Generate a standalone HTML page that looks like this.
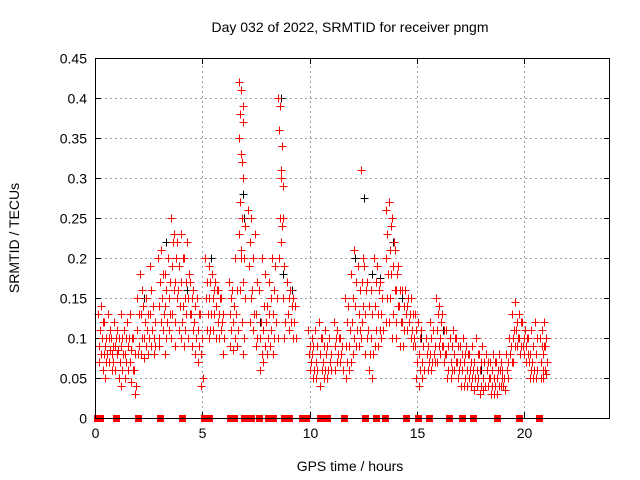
<!DOCTYPE html>
<html><head><meta charset="utf-8"><style>
body{margin:0;background:#fff}
svg{display:block;font-family:"Liberation Sans",sans-serif}
</style></head><body>
<svg id="chart" width="640" height="480" viewBox="0 0 640 480" xmlns="http://www.w3.org/2000/svg">
<rect width="640" height="480" fill="#fff"/>
<text x="350" y="32" font-size="14" text-anchor="middle">Day 032 of 2022, SRMTID for receiver pngm</text>
<text x="350" y="471" font-size="14" text-anchor="middle">GPS time / hours</text>
<text transform="translate(19,238) rotate(-90)" font-size="14" text-anchor="middle">SRMTID / TECUs</text>
<g id="grid"></g>
<g id="axes"></g>
<g id="black" shape-rendering="crispEdges"></g>
<g id="red" shape-rendering="crispEdges"></g>
<rect x="95.5" y="58.5" width="514" height="360" fill="none" stroke="#000" stroke-width="1"/>
</svg>
<script>
const xTicks = [0,5,10,15,20];
const yTicks = [0,0.05,0.1,0.15,0.2,0.25,0.3,0.35,0.4,0.45];
const yTickLabels = ["0","0.05","0.1","0.15","0.2","0.25","0.3","0.35","0.4","0.45"];
const redTimes = [0.2,0.35,0.5,0.65,0.8,0.95,1.1,1.25,1.4,1.55,1.7,1.85,2.0,2.15,2.3,2.45,2.6,2.75,3.0,3.15,3.3,3.45,3.6,3.75,3.9,4.05,4.2,4.35,4.5,4.65,4.8,4.95,5.2,5.35,5.5,5.65,5.8,5.95,6.3,6.45,6.6,6.75,6.85,6.95,7.2,7.35,7.5,7.7,7.85,8.0,8.15,8.3,8.45,8.6,8.7,8.8,9.0,9.15,9.3,10.0,10.15,10.3,10.5,10.65,10.8,10.95,11.2,11.35,11.5,11.7,11.85,12.0,12.15,12.3,12.45,12.6,12.75,12.9,13.05,13.2,13.35,13.6,13.75,13.9,14.05,14.2,14.35,14.5,14.65,14.8,14.95,15.1,15.25,15.5,15.65,15.8,15.95,16.1,16.25,16.4,16.6,16.75,16.9,17.05,17.2,17.35,17.5,17.65,17.8,17.95,18.1,18.3,18.45,18.6,18.75,18.9,19.05,19.2,19.35,19.5,19.65,19.8,19.95,20.1,20.25,20.4,20.55,20.8,20.9,21.0];
const redValues = [
[0.13,0.11,0.09,0.08,0.07],[0.14,0.12,0.1,0.08,0.06],[0.12,0.1,0.09,0.08,0.07,0.05],[0.13,0.11,0.1,0.085,0.07],
[0.1,0.09,0.08,0.07,0.06],[0.12,0.1,0.09,0.08,0.06],[0.11,0.1,0.085,0.07,0.05],[0.13,0.1,0.09,0.08,0.06,0.04],
[0.11,0.1,0.08,0.07,0.05],[0.12,0.1,0.09,0.07,0.06],[0.13,0.1,0.085,0.06,0.045],[0.1,0.08,0.06,0.04,0.03],
[0.15,0.13,0.11,0.09,0.08],[0.18,0.16,0.13,0.1,0.08],[0.14,0.12,0.1,0.09,0.075],[0.15,0.13,0.11,0.1,0.08],
[0.19,0.16,0.13,0.11,0.09],[0.14,0.12,0.1,0.09,0.08],[0.2,0.17,0.14,0.12,0.1,0.09],[0.21,0.18,0.15,0.13,0.11],
[0.18,0.16,0.14,0.12,0.1,0.08],[0.2,0.17,0.15,0.13,0.11],[0.25,0.22,0.19,0.16,0.13,0.1],[0.23,0.2,0.17,0.15,0.12,0.09],
[0.22,0.19,0.16,0.14,0.11],[0.23,0.2,0.17,0.14,0.12,0.1],[0.2,0.17,0.15,0.13,0.11,0.09],[0.22,0.18,0.15,0.13,0.1],
[0.17,0.15,0.13,0.11,0.09],[0.16,0.14,0.12,0.1,0.08],[0.15,0.13,0.11,0.09,0.07],[0.13,0.1,0.08,0.05,0.04],
[0.2,0.17,0.15,0.13,0.11],[0.19,0.17,0.15,0.13,0.11,0.1],[0.18,0.16,0.15,0.13,0.11],[0.17,0.16,0.14,0.12,0.1],
[0.16,0.15,0.13,0.11,0.1],[0.15,0.13,0.12,0.1,0.08],[0.17,0.15,0.13,0.11,0.09],[0.16,0.14,0.12,0.1,0.085],
[0.2,0.16,0.13,0.11,0.09],[0.42,0.38,0.35,0.33,0.27,0.23,0.2,0.16],[0.41,0.39,0.32,0.3,0.25,0.21,0.17,0.12],[0.37,0.24,0.2,0.15,0.1,0.08],
[0.26,0.22,0.19,0.15,0.12],[0.25,0.2,0.16,0.13,0.11],[0.23,0.17,0.13,0.1,0.09],[0.16,0.12,0.1,0.08,0.06],
[0.2,0.14,0.11,0.09,0.07],[0.18,0.14,0.12,0.1,0.08],[0.17,0.15,0.13,0.11,0.09],[0.2,0.16,0.13,0.1,0.08],
[0.19,0.15,0.12,0.1],[0.4,0.39,0.36,0.31,0.25,0.2],[0.39,0.34,0.3,0.29,0.24,0.22],[0.25,0.19,0.15,0.12,0.1],
[0.17,0.15,0.13,0.11],[0.16,0.14,0.12,0.1],[0.15,0.14,0.12,0.1],[0.11,0.09,0.08,0.07,0.06],
[0.1,0.09,0.08,0.06,0.05],[0.11,0.09,0.07,0.06,0.05],[0.12,0.1,0.08,0.06,0.04],[0.1,0.09,0.07,0.06,0.05],
[0.11,0.09,0.08,0.06,0.05],[0.1,0.08,0.07,0.06],[0.12,0.1,0.09,0.07,0.06],[0.11,0.1,0.08,0.07],
[0.1,0.09,0.08,0.06],[0.15,0.12,0.09,0.07,0.05],[0.14,0.11,0.09,0.07,0.06],[0.18,0.15,0.12,0.1,0.08],
[0.21,0.17,0.14,0.11,0.09],[0.19,0.16,0.13,0.11,0.09],[0.31,0.2,0.17,0.14,0.12,0.1],[0.19,0.16,0.13,0.1,0.08],
[0.17,0.14,0.11,0.08,0.06],[0.16,0.13,0.1,0.08,0.05],[0.2,0.17,0.14,0.11,0.09],[0.19,0.16,0.13,0.11,0.09],
[0.17,0.15,0.13,0.11,0.1],[0.26,0.23,0.2,0.18,0.15,0.12],[0.27,0.24,0.21,0.18,0.15,0.12],[0.25,0.22,0.19,0.16,0.13,0.1],
[0.21,0.18,0.16,0.14,0.12,0.1],[0.19,0.16,0.14,0.12,0.09],[0.16,0.14,0.12,0.11,0.09],[0.16,0.14,0.13,0.11],
[0.15,0.13,0.12,0.1],[0.15,0.13,0.11,0.1,0.09],[0.13,0.11,0.09,0.07,0.05],[0.12,0.1,0.08,0.06,0.04],
[0.11,0.09,0.07,0.06,0.05],[0.1,0.09,0.08,0.07,0.06],[0.12,0.1,0.08,0.07,0.06],[0.11,0.09,0.08,0.07],
[0.15,0.13,0.11,0.09,0.07],[0.14,0.12,0.1,0.09,0.08],[0.13,0.11,0.09,0.08,0.07],[0.11,0.09,0.08,0.06,0.05],
[0.1,0.09,0.07,0.06,0.05],[0.11,0.1,0.08,0.07,0.06],[0.1,0.09,0.07,0.06,0.05],[0.09,0.08,0.07,0.06,0.04],
[0.1,0.08,0.07,0.05,0.04],[0.09,0.08,0.06,0.05,0.04],[0.08,0.07,0.06,0.05,0.04],[0.09,0.07,0.06,0.05,0.035],
[0.1,0.08,0.06,0.05,0.04],[0.08,0.07,0.06,0.04,0.03],[0.09,0.07,0.05,0.04,0.035],[0.08,0.07,0.06,0.05,0.04],
[0.07,0.06,0.05,0.04,0.03],[0.08,0.07,0.05,0.04,0.03],[0.07,0.06,0.05,0.04,0.03],[0.08,0.07,0.06,0.05,0.04],
[0.06,0.05,0.04,0.035],[0.08,0.07,0.06,0.05],[0.1,0.09,0.08,0.07],[0.13,0.11,0.1,0.09,0.07],
[0.145,0.12,0.11,0.1,0.09],[0.13,0.12,0.1,0.09,0.08],[0.12,0.1,0.09,0.08],[0.11,0.1,0.09,0.08,0.07],
[0.1,0.08,0.07,0.06,0.05],[0.11,0.09,0.07,0.06,0.05],[0.12,0.1,0.08,0.06,0.05],
[0.1,0.09,0.07,0.06,0.05],[0.11,0.09,0.08,0.06,0.05],[0.12,0.1,0.09,0.07,0.055]
];
const blackTimes = [0.5,1.3,2.3,3.3,3.9,4.3,5.4,6.9,6.95,7.7,8.5,8.65,8.75,9.2,11.0,12.1,12.55,12.9,13.3,13.9,14.3,15.2,16.2,18.0,20.0];
const blackValues = [0.1,0.08,0.15,0.22,0.19,0.16,0.2,0.28,0.25,0.12,0.15,0.4,0.18,0.16,0.08,0.2,0.275,0.18,0.175,0.22,0.15,0.1,0.11,0.06,0.1];
const zeroTimes = [0.1,0.25,1.0,2.0,3.05,4.05,5.1,5.3,6.3,6.5,6.95,7.25,7.65,8.05,8.3,8.8,9.05,9.65,9.85,10.5,10.8,11.6,12.6,13.1,13.5,14.5,15.05,15.55,16.5,17.1,17.6,18.75,19.75,20.7];

const X0=95,X1=610,Y0=418,Y1=58;
const xs = t => X0 + (t/24)*(X1-X0);
const ys = v => Y0 - (v/0.45)*(Y0-Y1);
const NS='http://www.w3.org/2000/svg';
function mk(tag, attrs, parent){const e=document.createElementNS(NS,tag);for(const k in attrs)e.setAttribute(k,attrs[k]);parent.appendChild(e);return e;}
const grid=document.getElementById('grid'), axes=document.getElementById('axes');
xTicks.forEach(t=>{
  const x=Math.round(xs(t))+0.5;
  if(t>0){const g=mk('line',{x1:x,x2:x,y1:Y0,y2:Y1,stroke:'#a0a0a0','stroke-dasharray':'2,3'},grid);
  
  }
  mk('line',{x1:x,x2:x,y1:Y0,y2:Y0-6,stroke:'#000'},axes);
  mk('line',{x1:x,x2:x,y1:Y1,y2:Y1+6,stroke:'#000'},axes);
  const l=mk('text',{x:x,y:Y0+20,'font-size':14,'text-anchor':'middle'},axes);
  l.textContent=t;
  
  
});
yTicks.forEach((v,i)=>{
  const y=Math.round(ys(v))+0.5;
  if(v>0&&v<0.45){const g=mk('line',{x1:X0,x2:X1,y1:y,y2:y,stroke:'#a0a0a0','stroke-dasharray':'2,3'},grid);
  
  }
  mk('line',{x1:X0,x2:X0+6,y1:y,y2:y,stroke:'#000'},axes);
  mk('line',{x1:X1,x2:X1-6,y1:y,y2:y,stroke:'#000'},axes);
  const l=mk('text',{x:X0-8,y:y+5,'font-size':14,'text-anchor':'end'},axes);
  l.textContent=yTickLabels[i];
  
  
});
function plus(g,t,v,col){
  const x=Math.round(xs(t))+0.5,y=Math.round(ys(v))+0.5;
  const p=mk('path',{d:`M${x-4},${y}h8M${x},${y-4}v8`,stroke:col,'stroke-width':1,fill:'none'},g);
  
  
}
const bg=document.getElementById('black'), rg=document.getElementById('red');
blackTimes.forEach((t,i)=>plus(bg,t,blackValues[i],'#000'));
const jit=[-0.06,0.03,-0.02,0.06,0,-0.04,0.05,-0.01];
redTimes.forEach((t,i)=>(redValues[i]||[]).forEach((v,j)=>plus(rg,t+jit[j%jit.length],v,'#ff0000')));
zeroTimes.forEach(t=>{
  const x=Math.round(xs(t));
  const r=mk('rect',{x:x-3,y:Y0-3,width:7,height:7,fill:'#ff0000'},rg);
  
  
});
</script>
</body></html>
